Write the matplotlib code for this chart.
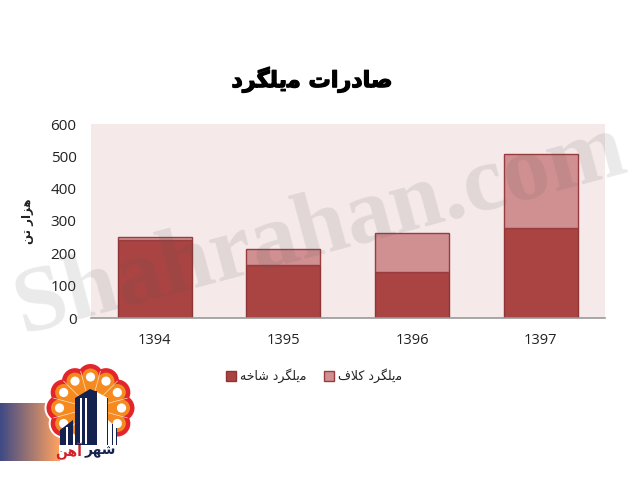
import numpy as np
import matplotlib
matplotlib.use('Agg')
import matplotlib.pyplot as plt
import matplotlib.patheffects as pe
from matplotlib.patches import Circle, Polygon, Rectangle

# matplotlib has no arabic shaping: strings are in presentation forms, visual order
title_txt = '\ufea9\ufeae\ufb95\ufee0\ufbfe\ufee3 \ufe95\ufe8d\ufead\ufea9\ufe8e\ufebb'
ylabel_txt = '\ufee6\ufe97 \ufead\ufe8d\ufeb0\ufeeb'
label_rod = '\ufeea\ufea7\ufe8e\ufeb7 \ufea9\ufeae\ufb95\ufee0\ufbfe\ufee3'
label_coil = '\ufed1\ufefc\ufb90 \ufea9\ufeae\ufb95\ufee0\ufbfe\ufee3'
logo_red = '\ufee6\ufeeb\ufe81'
logo_navy = '\ufeae\ufeec\ufeb7'

years = ['1394', '1395', '1396', '1397']
rod = [242, 165, 142, 278]
coil = [10, 48, 122, 229]
yticks = [0, 100, 200, 300, 400, 500, 600]

W, H = 640, 480
fig = plt.figure(figsize=(6.4, 4.8), dpi=100)
fig.patch.set_facecolor('white')

# axes box in pixels
left, right, top, bottom = 90.5, 605, 124, 318
ax = fig.add_axes([left / W, 1 - bottom / H, (right - left) / W, (bottom - top) / H])
ax.set_facecolor('#F5E9EA')

x = np.arange(len(years))
b1 = ax.bar(x, rod, width=0.575, color='#A94442', edgecolor='#8F3536', linewidth=1.0, label=label_rod)
b2 = ax.bar(x, coil, width=0.575, bottom=rod, color='#D09091', edgecolor='#993C3D', linewidth=1.0, label=label_coil)

ax.set_xlim(-0.5, 3.5)
ax.set_ylim(0, 600)
ax.set_xticks(x)
ax.set_xticklabels(years, fontfamily='Open Sans', fontsize=10.5, color='#222222')
ax.set_yticks(yticks)
ax.set_yticklabels(yticks, fontfamily='Open Sans', fontsize=11, color='#222222')
ax.tick_params(axis='both', length=0)
ax.tick_params(axis='x', pad=11)
ax.tick_params(axis='y', pad=10)
for s in ['top', 'left', 'right']:
    ax.spines[s].set_visible(False)
ax.spines['bottom'].set_color('#999999')
ax.spines['bottom'].set_linewidth(1.2)

leg = ax.legend(handles=[b1, b2], ncol=2, loc='center', bbox_to_anchor=(314 / W, 1 - 376 / H),
                bbox_transform=fig.transFigure, frameon=False, fontsize=9,
                handlelength=0.8, handleheight=0.8, handletextpad=0.35, columnspacing=1.35)
for t in leg.get_texts():
    t.set_color('#222222')

fig.text(312 / W, 1 - 80 / H, title_txt, ha='center', va='center', fontsize=16, fontweight='bold', color='black',
         path_effects=[pe.withStroke(linewidth=0.9, foreground='black')])
fig.text(27 / W, 1 - 221 / H, ylabel_txt, ha='center', va='center', rotation=90, fontsize=8.5, fontweight='bold', color='#222222')

# overlay in pixel coordinates: logo and watermark
ov = fig.add_axes([0, 0, 1, 1], zorder=5)
ov.axis('off')
ov.patch.set_alpha(0)

grad = np.linspace(0, 1, 64).reshape(1, -1)
c0 = np.array([0x3F, 0x4A, 0x85]) / 255
c1 = np.array([0xFF, 0xA2, 0x60]) / 255
ov.imshow((c0 + (c1 - c0) * grad[..., None]), extent=[0, 60, 461, 403], aspect='auto', zorder=1)
ov.set_xlim(0, W)
ov.set_ylim(H, 0)

cx, cy = 90.5, 408
angles = np.deg2rad([180, 150, 120, 90, 60, 30, 0, -30, 210])
for a in angles:
    ov.add_patch(Circle((cx + 31 * np.cos(a), cy - 31 * np.sin(a)), 15, color='white', lw=0, zorder=2))
for a in angles:
    ov.add_patch(Circle((cx + 31 * np.cos(a), cy - 31 * np.sin(a)), 13, color='#E3262B', lw=0, zorder=3))
ov.add_patch(Circle((cx, cy), 31, color='#F58A1F', lw=0, zorder=4))
for a in angles:
    px, py = cx + 31 * np.cos(a), cy - 31 * np.sin(a)
    ov.add_patch(Circle((px, py), 8.5, color='#F58A1F', lw=0, zorder=4))
    ov.add_patch(Circle((px, py), 4.6, color='white', lw=0, zorder=5))
for a in angles + np.deg2rad(15):
    ov.plot([cx, cx + 38 * np.cos(a)], [cy, cy - 38 * np.sin(a)], color='#FBE3C8', lw=0.5, zorder=4.5)

navy = '#14224F'
ov.add_patch(Polygon([(60, 459), (60, 430), (73, 420), (73, 459)], color=navy, lw=0, zorder=6))
ov.add_patch(Polygon([(75, 459), (75, 398), (90, 389), (95, 391), (95, 459)], color=navy, lw=0, zorder=6))
ov.add_patch(Polygon([(95, 391), (108, 398), (108, 459), (95, 459)], color='white', lw=0, zorder=6))
ov.add_patch(Polygon([(108, 420), (117, 428), (117, 459), (108, 459)], color='white', lw=0, zorder=6))
ov.add_patch(Rectangle((95, 391), 2.2, 55, color=navy, lw=0, zorder=7))
ov.add_patch(Rectangle((107, 398), 1.2, 50, color=navy, lw=0, zorder=7))
ov.add_patch(Rectangle((112, 424), 1.0, 25, color=navy, lw=0, zorder=7))
ov.add_patch(Rectangle((116, 428), 1.0, 20, color=navy, lw=0, zorder=7))
for xs in [80, 85, 66]:
    ov.add_patch(Rectangle((xs, 398 if xs > 75 else 427), 1.5, 46, color='white', lw=0, zorder=7))
ov.add_patch(Rectangle((59, 445), 59, 15, color='white', lw=0, zorder=7.5))
for txt, tx, col in [(logo_red, 69, '#D2202A'), (logo_navy, 100, navy)]:
    ov.text(tx, 451, txt, ha='center', va='center', fontsize=10, fontweight='bold', color=col, zorder=8)

# watermark goes over everything
ov.text(326, 252, 'Shahrahan.com', ha='center', va='baseline', rotation=15, rotation_mode='anchor',
        fontfamily='Liberation Serif', fontweight='bold', fontsize=67, color='#5A5A5A', alpha=0.13, zorder=9)

fig.savefig('out.png', dpi=100)
